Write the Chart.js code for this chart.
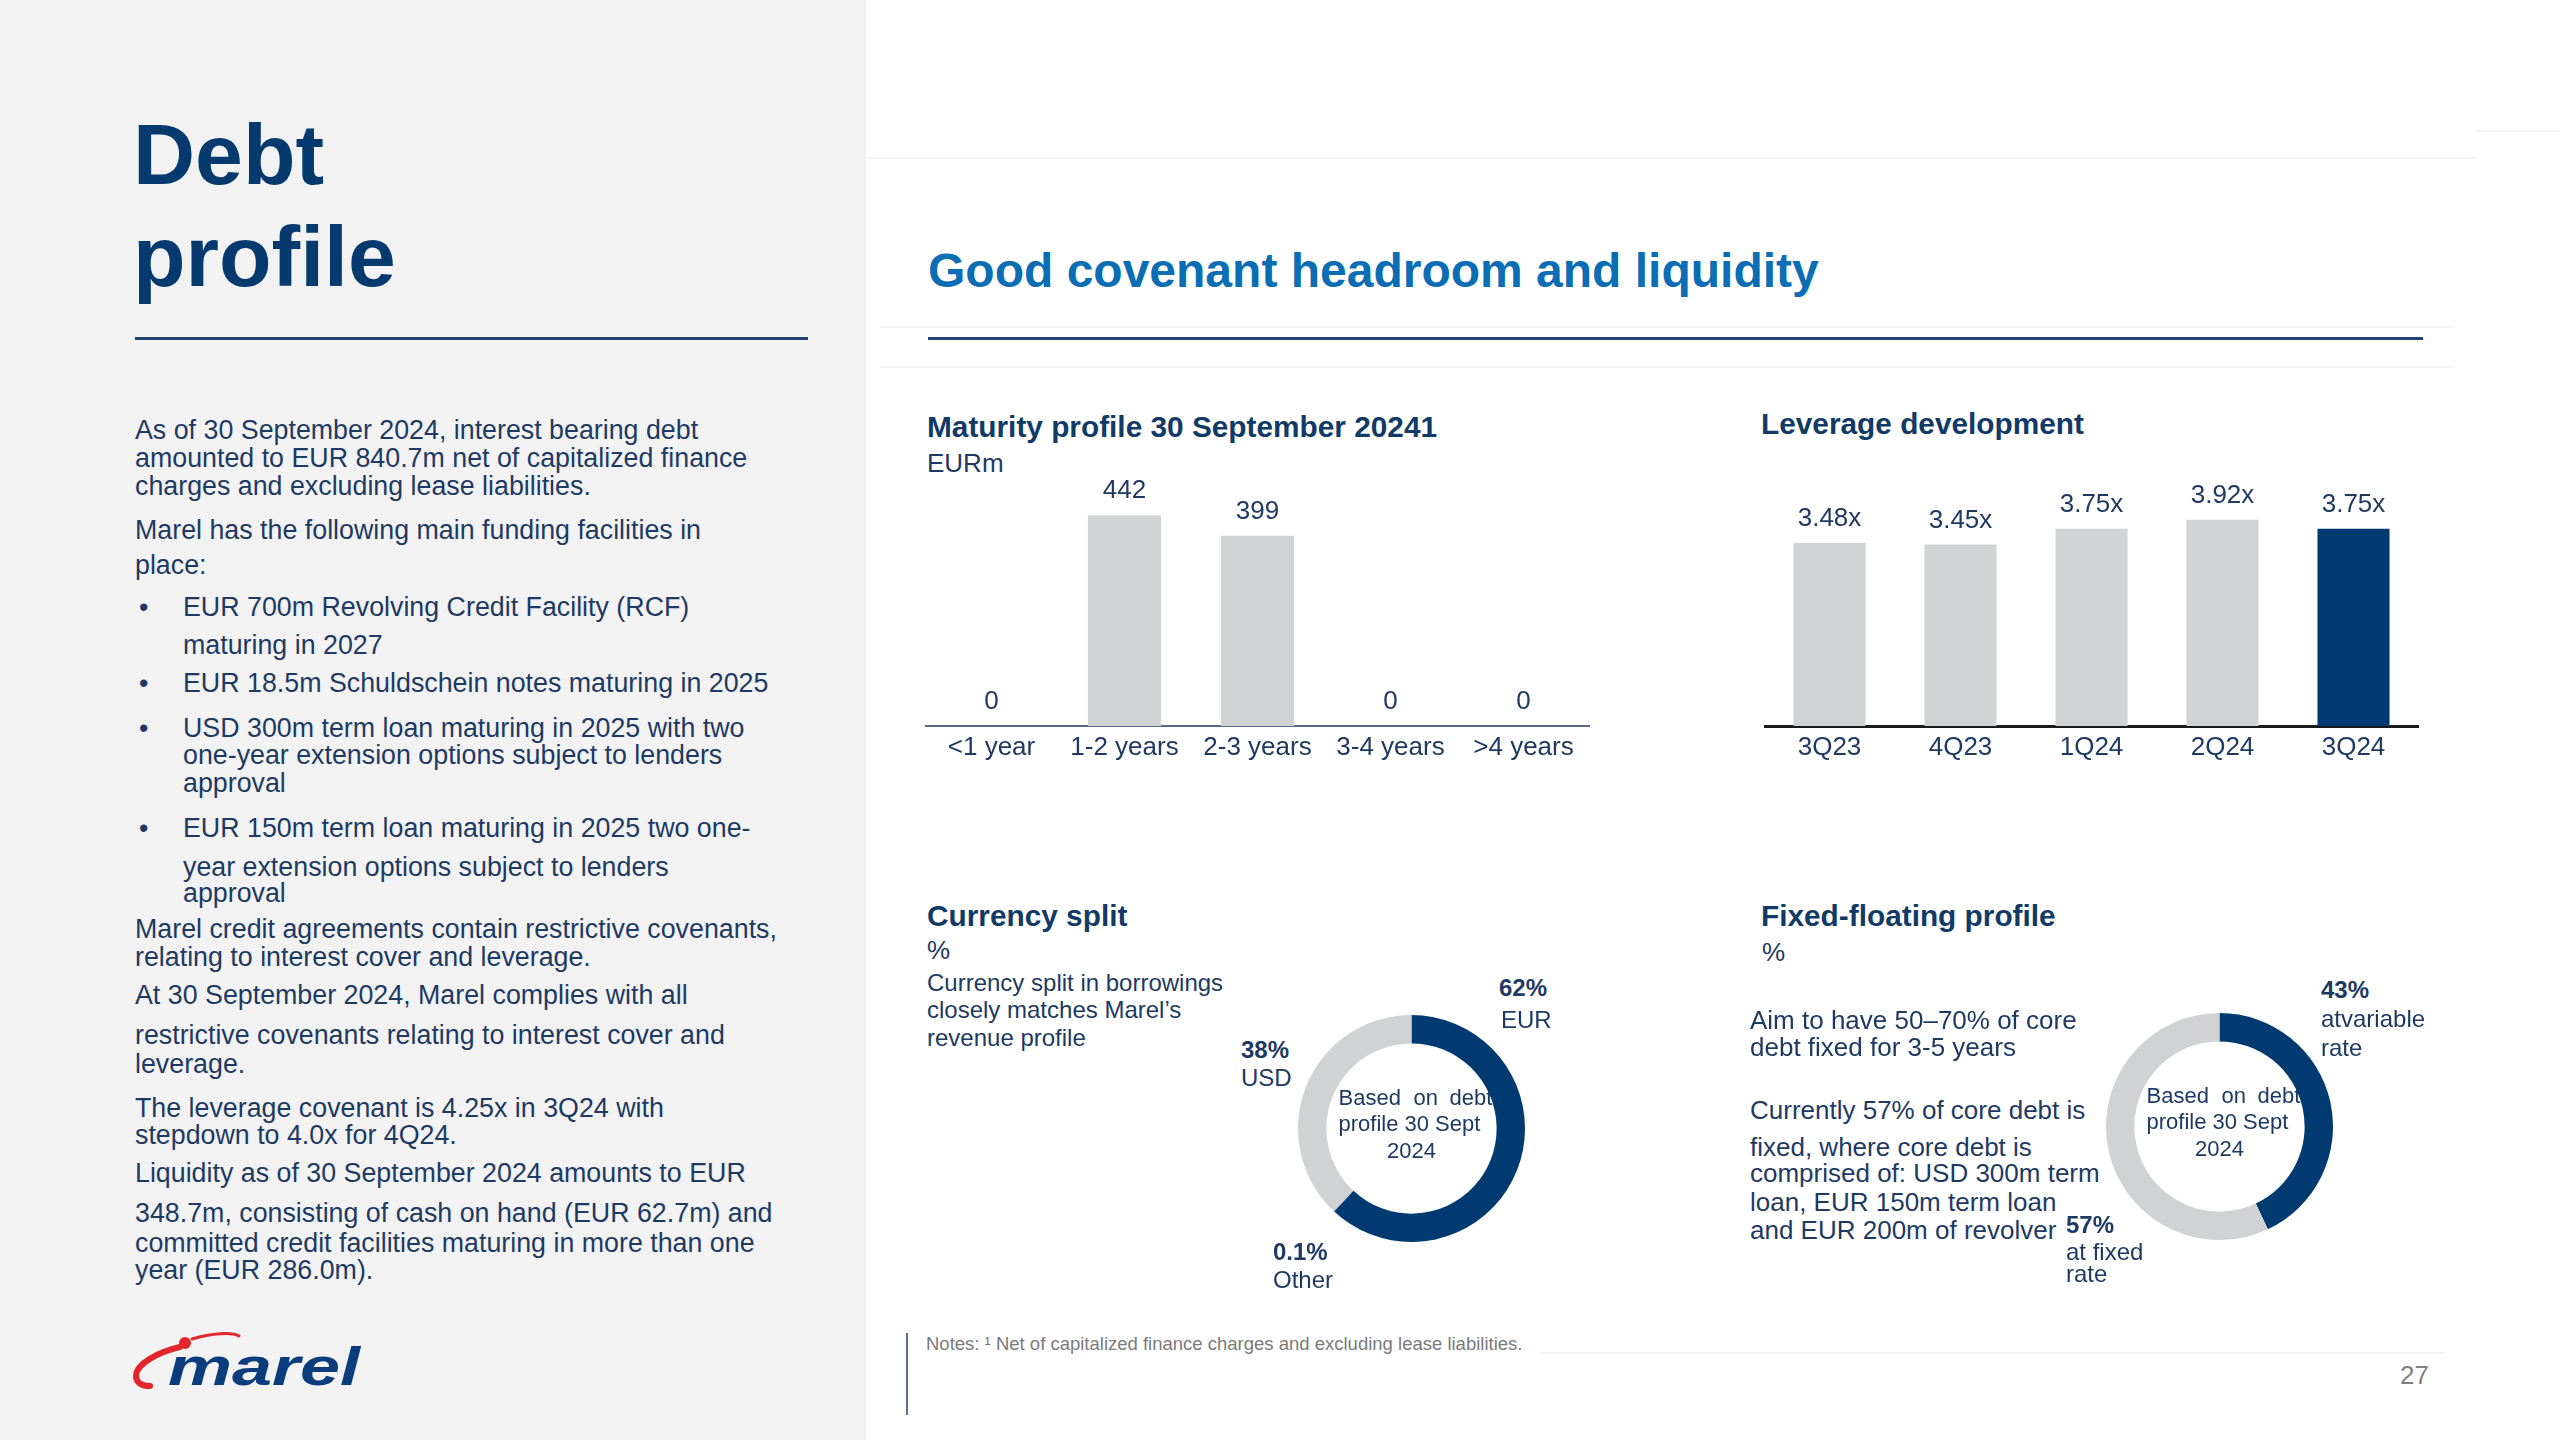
<!DOCTYPE html>
<html>
<head>
<meta charset="utf-8">
<script src="https://cdn.jsdelivr.net/npm/chart.js@4.4.1/dist/chart.umd.min.js"></script>
<style>
  body { margin: 0; background: #fff; }
  #page { position: relative; width: 2560px; height: 1440px; overflow: hidden; background: #fff;
          font-family: "Liberation Sans", Arial, sans-serif; color: #1e3a63; }
  .t { position: absolute; white-space: nowrap; line-height: 28px; }
  .body { font-size: 26.8px; left: 135px; }
  .ind { left: 183px; }
  .bul::before { content: '\2022'; position: absolute; left: -44px; }
  .h { font-weight: bold; font-size: 29.8px; color: #123a66; line-height: 34px; }
  .n26 { font-size: 26px; }
  .n24 { font-size: 24px; }
  .b24 { font-size: 24px; font-weight: bold; }
  .box { position: absolute; }
  .rule { position: absolute; height: 3px; background: #23446e; }
  .faint { position: absolute; height: 2px; background: #f4f4f4; }
</style>
</head>
<body>
<div id="page">
  <!-- left panel -->
  <div style="position:absolute;left:0;top:0;width:866px;height:1440px;background:#f2f2f2;"></div>
  <div class="t" style="left:133px;top:103px;font-size:86px;line-height:102px;font-weight:bold;color:#063a6f;">Debt<br>profile</div>
  <div class="rule" style="left:135px;top:337px;width:673px;"></div>

  <div class="t body" style="top:416px;">As of 30 September 2024, interest bearing debt</div>
  <div class="t body" style="top:444px;">amounted to EUR 840.7m net of capitalized finance</div>
  <div class="t body" style="top:472px;">charges and excluding lease liabilities.</div>
  <div class="t body" style="top:516px;">Marel has the following main funding facilities in</div>
  <div class="t body" style="top:551px;">place:</div>
  <div class="t body ind bul" style="top:593px;">EUR 700m Revolving Credit Facility (RCF)</div>
  <div class="t body ind" style="top:631px;">maturing in 2027</div>
  <div class="t body ind bul" style="top:669px;">EUR 18.5m Schuldschein notes maturing in 2025</div>
  <div class="t body ind bul" style="top:714px;">USD 300m term loan maturing in 2025 with two</div>
  <div class="t body ind" style="top:741px;">one-year extension options subject to lenders</div>
  <div class="t body ind" style="top:769px;">approval</div>
  <div class="t body ind bul" style="top:814px;">EUR 150m term loan maturing in 2025 two one-</div>
  <div class="t body ind" style="top:853px;">year extension options subject to lenders</div>
  <div class="t body ind" style="top:879px;">approval</div>
  <div class="t body" style="top:915px;">Marel credit agreements contain restrictive covenants,</div>
  <div class="t body" style="top:943px;">relating to interest cover and leverage.</div>
  <div class="t body" style="top:981px;">At 30 September 2024, Marel complies with all</div>
  <div class="t body" style="top:1021px;">restrictive covenants relating to interest cover and</div>
  <div class="t body" style="top:1050px;">leverage.</div>
  <div class="t body" style="top:1094px;">The leverage covenant is 4.25x in 3Q24 with</div>
  <div class="t body" style="top:1121px;">stepdown to 4.0x for 4Q24.</div>
  <div class="t body" style="top:1159px;">Liquidity as of 30 September 2024 amounts to EUR</div>
  <div class="t body" style="top:1199px;">348.7m, consisting of cash on hand (EUR 62.7m) and</div>
  <div class="t body" style="top:1229px;">committed credit facilities maturing in more than one</div>
  <div class="t body" style="top:1256px;">year (EUR 286.0m).</div>

  <!-- logo -->
  <svg style="position:absolute;left:120px;top:1320px;" width="260" height="90" viewBox="0 0 260 90">
    <path d="M60 27 C38 32 16 44 16 56 C16 63 22 66 30 66" fill="none" stroke="#e3262d" stroke-width="6" stroke-linecap="round"/>
    <path d="M72 19 C92 13 112 12 119 16" fill="none" stroke="#e3262d" stroke-width="3" stroke-linecap="round"/>
    <circle cx="65" cy="23" r="6" fill="#e3262d"/>
    <text x="48" y="65" font-family="Liberation Sans, Arial, sans-serif" font-size="54" font-weight="bold" font-style="italic" fill="#0b3c7c" textLength="192" lengthAdjust="spacingAndGlyphs">marel</text>
  </svg>

  <!-- right side -->
  <div class="faint" style="left:866px;top:157px;width:1610px;"></div>
  <div class="faint" style="left:2476px;top:130px;width:84px;"></div>
  <div class="faint" style="left:880px;top:326px;width:1575px;"></div>
  <div class="faint" style="left:880px;top:366px;width:1575px;"></div>
  <div class="t" style="left:928px;top:245px;font-size:48px;line-height:52px;font-weight:bold;color:#0b6db3;">Good covenant headroom and liquidity</div>
  <div class="rule" style="left:928px;top:337px;width:1495px;"></div>

  <div class="t h" style="left:927px;top:410px;">Maturity profile 30 September 20241</div>
  <div class="t n26" style="left:927px;top:449px;">EURm</div>
  <div class="box" id="matBox" style="left:925px;top:440px;width:665px;height:326px;"><canvas id="matChart"></canvas></div>

  <div class="t h" style="left:1761px;top:407px;">Leverage development</div>
  <div class="box" id="levBox" style="left:1764px;top:463px;width:655px;height:303px;"><canvas id="levChart"></canvas></div>

  <div class="t h" style="left:927px;top:899px;">Currency split</div>
  <div class="t n26" style="left:927px;top:936px;">%</div>
  <div class="t n24" style="left:927px;top:969px;">Currency split in borrowings</div>
  <div class="t n24" style="left:927px;top:996px;">closely matches Marel’s</div>
  <div class="t n24" style="left:927px;top:1024px;">revenue profile</div>
  <div class="box" id="curBox" style="left:1298px;top:1015px;width:227px;height:227px;"><canvas id="curChart"></canvas></div>
  <div class="t b24" id="curPct0" style="left:1499px;top:974px;"></div>
  <div class="t n24" id="curLbl0" style="left:1501px;top:1006px;"></div>
  <div class="t b24" id="curPct2" style="left:1241px;top:1036px;"></div>
  <div class="t n24" id="curLbl2" style="left:1241px;top:1064px;"></div>
  <div class="t b24" id="curPct1" style="left:1273px;top:1238px;"></div>
  <div class="t n24" id="curLbl1" style="left:1273px;top:1266px;"></div>

  <div class="t h" style="left:1761px;top:899px;">Fixed-floating profile</div>
  <div class="t n26" style="left:1762px;top:938px;">%</div>
  <div class="t n26" style="left:1750px;top:1006px;">Aim to have 50–70% of core</div>
  <div class="t n26" style="left:1750px;top:1033px;">debt fixed for 3-5 years</div>
  <div class="t n26" style="left:1750px;top:1096px;">Currently 57% of core debt is</div>
  <div class="t n26" style="left:1750px;top:1133px;">fixed, where core debt is</div>
  <div class="t n26" style="left:1750px;top:1159px;">comprised of: USD 300m term</div>
  <div class="t n26" style="left:1750px;top:1188px;">loan, EUR 150m term loan</div>
  <div class="t n26" style="left:1750px;top:1216px;">and EUR 200m of revolver</div>
  <div class="box" id="ffBox" style="left:2106px;top:1013px;width:227px;height:227px;"><canvas id="ffChart"></canvas></div>
  <div class="t b24" id="ffPct0" style="left:2321px;top:976px;"></div>
  <div class="t n24" id="ffLbl0" style="left:2321px;top:1004px;line-height:29px;"></div>
  <div class="t b24" id="ffPct1" style="left:2066px;top:1211px;"></div>
  <div class="t n24" id="ffLbl1" style="left:2066px;top:1241px;line-height:22px;"></div>

  <!-- footer -->
  <div style="position:absolute;left:906px;top:1333px;width:2px;height:82px;background:#5d7290;"></div>
  <div class="t" style="left:926px;top:1333px;font-size:18.5px;line-height:22px;color:#7a7a7a;">Notes: ¹ Net of capitalized finance charges and excluding lease liabilities.</div>
  <div class="faint" style="left:1540px;top:1352px;width:905px;"></div>
  <div class="t" style="left:2400px;top:1361px;font-size:26px;color:#7f7f7f;">27</div>
</div>

<script>
// data
const maturityLabels = ['<1 year', '1-2 years', '2-3 years', '3-4 years', '>4 years'];
const maturityValues = [0, 442, 399, 0, 0];

const leverageLabels = ['3Q23', '4Q23', '1Q24', '2Q24', '3Q24'];
const leverageValues = [3.48, 3.45, 3.75, 3.92, 3.75];

const currencyLabels = ['EUR', 'Other', 'USD'];
const currencyValues = [62, 0.1, 38];

const rateLabels = [['atvariable', 'rate'], ['at fixed', 'rate']];
const rateValues = [43, 57];

const FONT = '"Liberation Sans", Arial, sans-serif';
const NAVY_TXT = '#1e3a63';
const GRIS = '#d0d2d3';
const AZUL = '#003a70';

// numeros encima de cada barra
const etiquetasBarras = {
  id: 'etiquetasBarras',
  afterDatasetsDraw(chart, args, opts) {
    const ctx = chart.ctx;
    const meta = chart.getDatasetMeta(0);
    const datos = chart.data.datasets[0].data;
    ctx.save();
    ctx.font = '26px ' + FONT;
    ctx.fillStyle = NAVY_TXT;
    ctx.textAlign = 'center';
    ctx.textBaseline = 'middle';
    meta.data.forEach((bar, i) => {
      ctx.fillText(opts.format(datos[i]), bar.x, bar.y - 24);
    });
    ctx.restore();
  }
};

// texto del centro, queda debajo del anillo
const textoCentro = {
  id: 'textoCentro',
  beforeDatasetsDraw(chart) {
    const arc = chart.getDatasetMeta(0).data[0];
    const cx = arc.x, cy = arc.y;
    const ctx = chart.ctx;
    ctx.save();
    ctx.font = '22px ' + FONT;
    ctx.fillStyle = NAVY_TXT;
    ctx.textBaseline = 'middle';
    ctx.textAlign = 'left';
    const x0 = cx - 73;
    ctx.fillText('Based', x0, cy - 30);
    ctx.fillText('on', x0 + 75, cy - 30);
    ctx.fillText('debt', x0 + 111, cy - 30);
    ctx.fillText('profile 30 Sept', x0, cy - 4);
    ctx.textAlign = 'center';
    ctx.fillText('2024', cx, cy + 23);
    ctx.restore();
  }
};

function graficoBarras(id, etiquetas, valores, colores, maximo, formato, colorEje, anchoEje) {
  return new Chart(document.getElementById(id), {
    type: 'bar',
    data: {
      labels: etiquetas,
      datasets: [{ data: valores, backgroundColor: colores, barPercentage: 0.55, categoryPercentage: 1 }]
    },
    options: {
      responsive: true,
      maintainAspectRatio: false,
      animation: false,
      layout: { padding: 0 },
      plugins: {
        legend: { display: false },
        tooltip: { enabled: false },
        etiquetasBarras: { format: formato }
      },
      scales: {
        x: {
          z: 1,
          grid: { display: false, drawTicks: false },
          border: { display: true, color: colorEje, width: anchoEje },
          ticks: { color: NAVY_TXT, font: { size: 26, family: FONT }, padding: 6, maxRotation: 0 },
          afterFit: s => { s.height = 40; }
        },
        y: { display: false, min: 0, max: maximo }
      }
    },
    plugins: [etiquetasBarras]
  });
}

function graficoDona(id, etiquetas, valores, colores) {
  return new Chart(document.getElementById(id), {
    type: 'doughnut',
    data: {
      labels: etiquetas,
      datasets: [{ data: valores, backgroundColor: colores, borderWidth: 0, hoverOffset: 0, offset: 0 }]
    },
    options: {
      responsive: true,
      maintainAspectRatio: false,
      animation: false,
      cutout: '75%',
      layout: { padding: 0 },
      plugins: { legend: { display: false }, tooltip: { enabled: false } }
    },
    plugins: [textoCentro]
  });
}

graficoBarras('matChart', maturityLabels, maturityValues, GRIS, 600, v => String(v), '#5b6b86', 2);
graficoBarras('levChart', leverageLabels, leverageValues,
  leverageValues.map((v, i) => i === leverageValues.length - 1 ? AZUL : GRIS),
  5, v => v.toFixed(2) + 'x', '#1a1a1a', 3);

graficoDona('curChart', currencyLabels, currencyValues, [AZUL, '#8a9bb0', GRIS]);
graficoDona('ffChart', rateLabels.map(l => l.join(' ')), rateValues, [AZUL, GRIS]);

// etiquetas alrededor de las donas
currencyValues.forEach((v, i) => {
  document.getElementById('curPct' + i).textContent = v + '%';
  document.getElementById('curLbl' + i).textContent = currencyLabels[i];
});
rateValues.forEach((v, i) => {
  document.getElementById('ffPct' + i).textContent = v + '%';
  document.getElementById('ffLbl' + i).innerHTML = rateLabels[i].join('<br>');
});
</script>
</body>
</html>
